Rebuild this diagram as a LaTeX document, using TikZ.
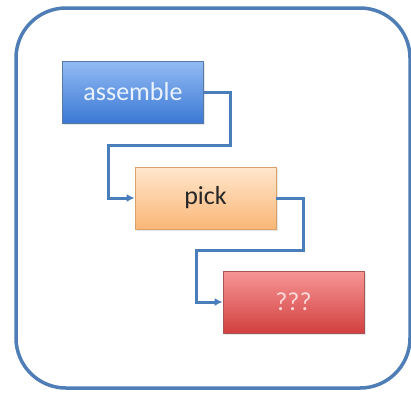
\documentclass[tikz,border=0pt]{standalone}
\usepackage{fontspec}
\setmainfont{Carlito}
\usetikzlibrary{arrows.meta,shadows}
\definecolor{frameblue}{HTML}{4F7DB5}
\definecolor{linkblue}{HTML}{4A7EBB}
\definecolor{bluetop}{HTML}{92BBF3}
\definecolor{bluebot}{HTML}{3B78D4}
\definecolor{blueedge}{HTML}{5878A6}
\definecolor{bluetext}{HTML}{EAF2FF}
\definecolor{orangetop}{HTML}{FFE7CE}
\definecolor{orangebot}{HTML}{FAB676}
\definecolor{orangeedge}{HTML}{D9A06A}
\definecolor{redtop}{HTML}{F79696}
\definecolor{redbot}{HTML}{D24040}
\definecolor{rededge}{HTML}{A85555}
\definecolor{redtext}{HTML}{FCD8D8}
\begin{document}
\begin{tikzpicture}[x=1pt,y=-1pt,
  stage/.style={draw, line width=0.8pt, minimum width=141pt, minimum height=62pt,
    inner sep=0pt, font=\fontsize{26}{30}\selectfont,
    drop shadow={shadow xshift=1.5pt, shadow yshift=-1.5pt, opacity=0.2}},
  bluestage/.style={stage, draw=blueedge, top color=bluetop, bottom color=bluebot, text=bluetext},
  orangestage/.style={stage, draw=orangeedge, top color=orangetop, bottom color=orangebot, text=black!85},
  redstage/.style={stage, draw=rededge, top color=redtop, bottom color=redbot, text=redtext},
  conn/.style={draw=linkblue, line width=3pt, -{Latex[length=8pt,width=8pt]}}]
\useasboundingbox (0,0) rectangle (411,392);
% outer frame
\draw[frameblue, line width=3.5pt, rounded corners=50pt] (16,8) rectangle (410,388);
% stages
\node[bluestage] (asm) at (133,92) {assemble};
\node[orangestage] (pick) at (205.5,198) {pick};
\node[redstage] (unk) at (293.5,302) {???};
% bends of the links
\coordinate (a1) at (230,145);
\coordinate (a2) at (108,145);
\coordinate (b1) at (303,250);
\coordinate (b2) at (196,250);
\draw[conn] (asm.east) -| (a1) -- (a2) |- (pick.west);
\draw[conn] (pick.east) -| (b1) -- (b2) |- (unk.west);
\end{tikzpicture}
\end{document}
